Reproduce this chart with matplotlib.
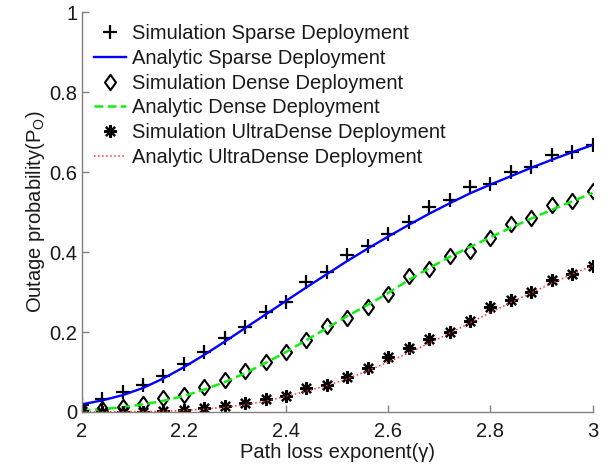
import matplotlib
matplotlib.use("Agg")
import matplotlib.pyplot as plt
from matplotlib.path import Path

plt.rcParams['font.family'] = ['Liberation Sans', 'DejaVu Sans']
plt.rcParams['mathtext.fontset'] = 'custom'
plt.rcParams['mathtext.rm'] = 'Liberation Sans'
plt.rcParams['mathtext.it'] = 'Liberation Sans:italic'

# Path loss exponent grid
gamma = [2.00, 2.04, 2.08, 2.12, 2.16, 2.20, 2.24, 2.28, 2.32, 2.36, 2.40, 2.44, 2.48,
         2.52, 2.56, 2.60, 2.64, 2.68, 2.72, 2.76, 2.80, 2.84, 2.88, 2.92, 2.96, 3.00]

# Monte-Carlo outage probability
sim_sparse = [0.017, 0.032, 0.049, 0.068, 0.090, 0.120, 0.149, 0.186, 0.213, 0.250,
              0.275, 0.325, 0.350, 0.394, 0.415, 0.446, 0.476, 0.514, 0.530, 0.564,
              0.571, 0.601, 0.614, 0.643, 0.651, 0.669]
sim_dense = [0.003, 0.008, 0.012, 0.020, 0.034, 0.042, 0.062, 0.080, 0.102, 0.126,
             0.149, 0.180, 0.215, 0.234, 0.263, 0.296, 0.340, 0.358, 0.391, 0.404,
             0.436, 0.470, 0.486, 0.518, 0.527, 0.553]
sim_ultra = [0.002, 0.001, 0.001, 0.001, 0.003, 0.005, 0.009, 0.016, 0.023, 0.032,
             0.041, 0.059, 0.067, 0.088, 0.111, 0.138, 0.161, 0.183, 0.200, 0.227,
             0.263, 0.279, 0.300, 0.331, 0.344, 0.364]

# Closed-form outage probability
ana_sparse = [0.019, 0.029, 0.042, 0.060, 0.084, 0.112, 0.143, 0.176, 0.210, 0.244,
              0.278, 0.312, 0.345, 0.378, 0.409, 0.439, 0.468, 0.496, 0.522, 0.547,
              0.569, 0.590, 0.611, 0.631, 0.650, 0.668]
ana_dense = [0.004, 0.007, 0.012, 0.019, 0.028, 0.040, 0.056, 0.075, 0.097, 0.123,
             0.150, 0.180, 0.210, 0.240, 0.268, 0.298, 0.330, 0.360, 0.388, 0.413,
             0.437, 0.461, 0.484, 0.506, 0.527, 0.548]
ana_ultra = [0.000, 0.000, 0.001, 0.001, 0.002, 0.004, 0.007, 0.012, 0.018, 0.027,
             0.039, 0.052, 0.066, 0.083, 0.103, 0.125, 0.148, 0.172, 0.197, 0.223,
             0.249, 0.274, 0.298, 0.322, 0.345, 0.366]

labels = ["Simulation Sparse Deployment", "Analytic Sparse Deployment",
          "Simulation Dense Deployment", "Analytic Dense Deployment",
          "Simulation UltraDense Deployment", "Analytic UltraDense Deployment"]

xticks = [2, 2.2, 2.4, 2.6, 2.8, 3]
xticklabels = ["2", "2.2", "2.4", "2.6", "2.8", "3"]
yticks = [0, 0.2, 0.4, 0.6, 0.8, 1]
yticklabels = ["0", "0.2", "0.4", "0.6", "0.8", "1"]

FS = 14.5
TEXT = '#1a1a1a'
AXIS = '#808080'

# MATLAB-style diamond: taller than wide
diamond = Path([(0, 1), (0.72, 0), (0, -1), (-0.72, 0), (0, 1)],
               [Path.MOVETO, Path.LINETO, Path.LINETO, Path.LINETO, Path.CLOSEPOLY])

fig = plt.figure(figsize=(6.11, 4.67), dpi=100)
ax = fig.add_axes([0.1336, 0.1178, 0.8364, 0.8559])

ax.plot(gamma, sim_sparse, linestyle='none', marker='+', markersize=10,
        markeredgewidth=1.6, color='black', label=labels[0])
ax.plot(gamma, ana_sparse, '-', color='#0000ff', linewidth=1.7, label=labels[1])
ax.plot(gamma, sim_dense, linestyle='none', marker=diamond, markersize=11,
        markeredgewidth=1.5, markerfacecolor='none', markeredgecolor='black',
        label=labels[2])
ax.plot(gamma, ana_dense, '--', color='#11ee11', linewidth=1.8, dashes=(3.5, 1.8),
        label=labels[3])
ax.plot(gamma, sim_ultra, linestyle='none', marker=(8, 2, 0), markersize=9,
        markeredgewidth=1.6, color='black', label=labels[4])
ax.plot(gamma, ana_ultra, ':', color='#ff3030', linewidth=1.1, label=labels[5])

ax.set_xlim(2, 3)
ax.set_ylim(0, 1)
ax.set_xticks(xticks)
ax.set_xticklabels(xticklabels)
ax.set_yticks(yticks)
ax.set_yticklabels(yticklabels)

for side in ('top', 'right'):
    ax.spines[side].set_visible(False)
for side in ('left', 'bottom'):
    ax.spines[side].set_color(AXIS)
    ax.spines[side].set_linewidth(1.0)

ax.tick_params(axis='both', direction='in', length=5, width=1.0, color=AXIS,
               labelsize=FS, labelcolor=TEXT)
ax.tick_params(axis='x', pad=7.5)
ax.tick_params(axis='y', pad=3)

ax.set_xlabel("Path loss exponent(\u03b3)", fontsize=FS, color=TEXT, labelpad=1)
ax.set_ylabel("Outage probability(P$_{\\rm O}$)", fontsize=FS, color=TEXT, labelpad=2)

leg = ax.legend(loc='upper left', bbox_to_anchor=(0.024, 0.970), frameon=False,
                fontsize=FS, handlelength=1.6, handletextpad=0.3,
                labelspacing=0.285, borderpad=0, borderaxespad=0, numpoints=1)
for t in leg.get_texts():
    t.set_color(TEXT)

fig.savefig("out.png", dpi=100)
